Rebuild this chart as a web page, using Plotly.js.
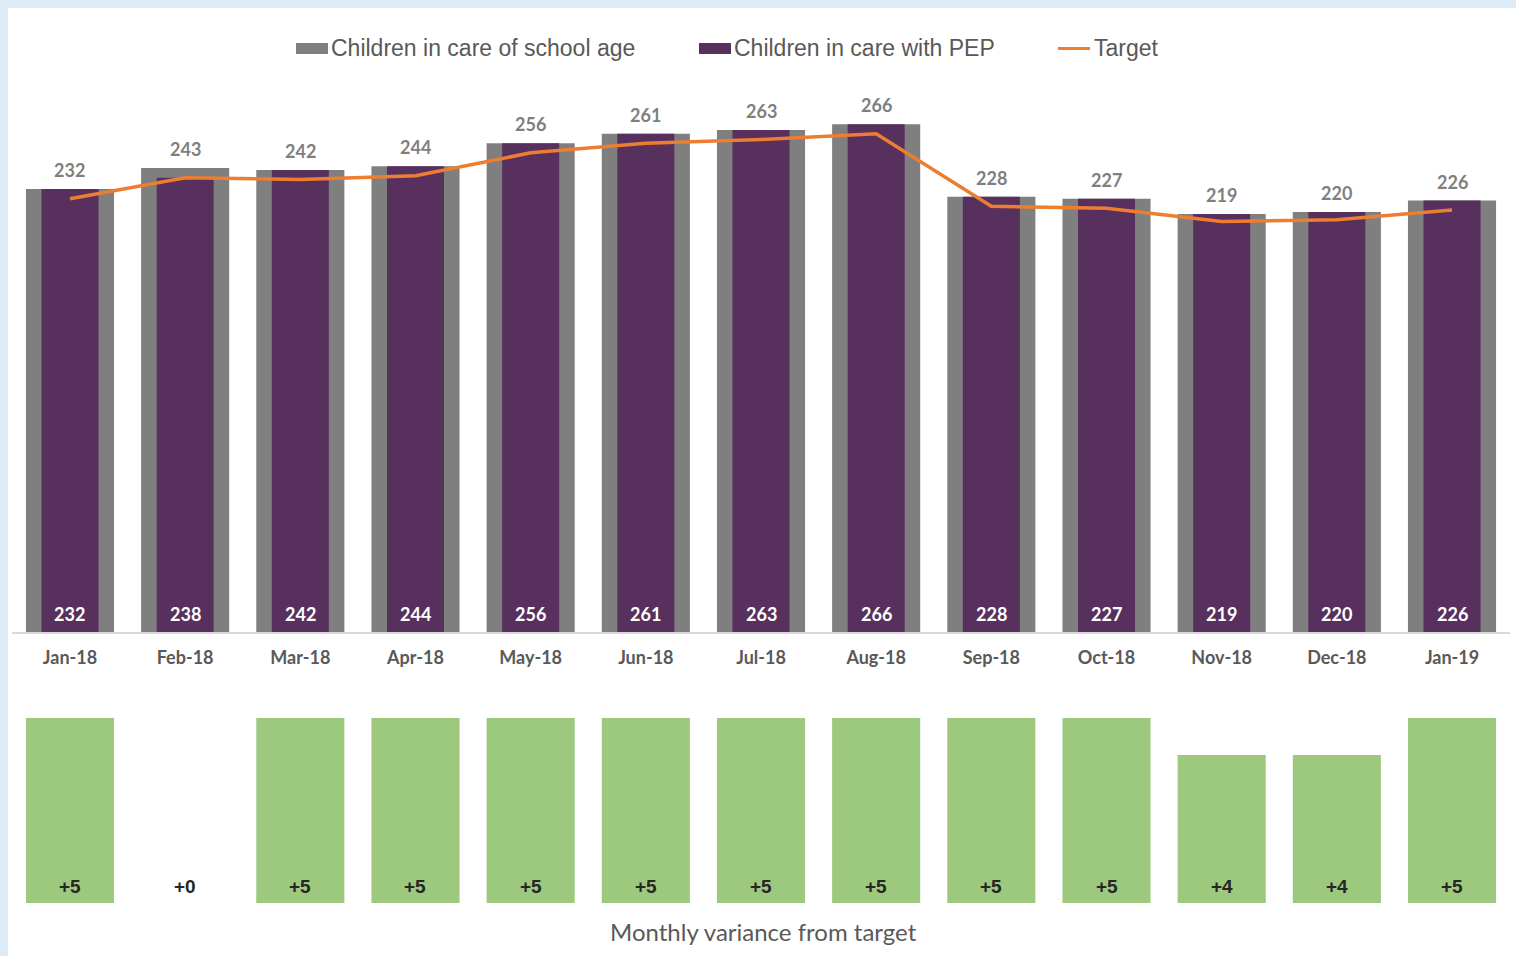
<!DOCTYPE html>
<html>
<head>
<meta charset="utf-8">
<script src="https://cdn.plot.ly/plotly-3.0.1.min.js"></script>
<style>
html,body{margin:0;padding:0;background:#ffffff;}
#chart{width:1516px;height:956px;}
</style>
</head>
<body>
<div id="chart"></div>
<script>
const months = ["Jan-18","Feb-18","Mar-18","Apr-18","May-18","Jun-18","Jul-18","Aug-18","Sep-18","Oct-18","Nov-18","Dec-18","Jan-19"];
const schoolAge = [232,243,242,244,256,261,263,266,228,227,219,220,226];
const withPEP = [232,238,242,244,256,261,263,266,228,227,219,220,226];
const target = [227,238,237,239,251,256,258,261,223,222,215,216,221];
const variance = [5,0,5,5,5,5,5,5,5,5,4,4,5];
const seriesNames = ["Children in care of school age","Children in care with PEP","Target"];

const W = 1516, H = 956;
const px = v => v / W;
const py = v => 1 - v / H;
const xDom = [px(12.4), px(1509.6)];
const topDom = [py(632), py(90)];
const botDom = [py(903), py(700)];

const traces = [
  {type:'bar', name:seriesNames[0], x:months, y:schoolAge, width:0.765, showlegend:false,
   marker:{color:'#7F7F7F'}, xaxis:'x', yaxis:'y', hoverinfo:'skip'},
  {type:'bar', name:seriesNames[1], x:months, y:withPEP, width:0.495, showlegend:false,
   marker:{color:'#58305D'}, xaxis:'x', yaxis:'y', hoverinfo:'skip'},
  {type:'scatter', mode:'lines', name:seriesNames[2], x:months, y:target, showlegend:false,
   line:{color:'#ED7D31', width:3.5}, xaxis:'x', yaxis:'y', hoverinfo:'skip'},
  {type:'bar', name:'Variance', x:months, y:variance, width:0.765, showlegend:false,
   marker:{color:'#9DC97E'}, xaxis:'x2', yaxis:'y2', hoverinfo:'skip'}
];

const numFont = c => ({family:'Lato, "Open Sans", sans-serif', size:18, color:c, weight:'bold'});
const annotations = [];
months.forEach((m,i)=>{
  annotations.push({x:m, y:schoolAge[i], xref:'x', yref:'y', text:String(schoolAge[i]),
    showarrow:false, yanchor:'bottom', yshift:6, font:numFont('#7F7F7F')});
  annotations.push({x:m, y:0, xref:'x', yref:'y', text:String(withPEP[i]),
    showarrow:false, yanchor:'bottom', yshift:5, font:numFont('#FFFFFF')});
  annotations.push({x:m, y:0, xref:'x2', yref:'y2', text:'+'+variance[i],
    showarrow:false, yanchor:'bottom', yshift:4,
    font:{family:'"Liberation Sans", Arial, sans-serif', size:19, color:'#262626', weight:'bold'}});
});
annotations.push({x:0.5, y:py(931), xref:'paper', yref:'paper', text:'Monthly variance from target',
  showarrow:false, xanchor:'center', yanchor:'middle', xshift:5,
  font:{family:'Lato, "Open Sans", sans-serif', size:24, color:'#595959'}});

// custom legend
const legFont = {family:'"Liberation Sans", Arial, sans-serif', size:23, color:'#595959'};
const legTextX = [331, 734, 1094];
seriesNames.forEach((n,i)=>{
  annotations.push({x:px(legTextX[i]), y:py(48), xref:'paper', yref:'paper', text:n,
    showarrow:false, xanchor:'left', yanchor:'middle', xshift:-2, font:legFont});
});

const layout = {
  width:W, height:H,
  margin:{l:0,r:0,t:0,b:0},
  paper_bgcolor:'#FFFFFF', plot_bgcolor:'rgba(0,0,0,0)',
  barmode:'overlay',
  showlegend:false,
  xaxis:{domain:xDom, anchor:'y', type:'category', range:[-0.5,12.5],
    showline:true, linecolor:'#D9D9D9', linewidth:1.5, ticks:'', showgrid:false, zeroline:false,
    ticklabelstandoff:9,
    tickfont:{family:'Lato, "Open Sans", sans-serif', size:18, color:'#595959', weight:'bold'}},
  yaxis:{domain:topDom, anchor:'x', range:[0, 542/1.909], visible:false, fixedrange:true},
  xaxis2:{domain:xDom, anchor:'y2', type:'category', range:[-0.5,12.5], visible:false},
  yaxis2:{domain:botDom, anchor:'x2', range:[0, 203/37], visible:false},
  annotations:annotations,
  shapes:[
    {type:'rect', xref:'paper', yref:'paper', x0:0, x1:px(8), y0:0, y1:1, fillcolor:'#DDEBF7', line:{width:0}, layer:'below'},
    {type:'rect', xref:'paper', yref:'paper', x0:0, x1:1, y0:py(8), y1:1, fillcolor:'#DDEBF7', line:{width:0}, layer:'below'},
    {type:'rect', xref:'paper', yref:'paper', x0:px(296), x1:px(328), y0:py(54), y1:py(43), fillcolor:'#7F7F7F', line:{width:0}},
    {type:'rect', xref:'paper', yref:'paper', x0:px(699), x1:px(731), y0:py(54), y1:py(43), fillcolor:'#58305D', line:{width:0}},
    {type:'line', xref:'paper', yref:'paper', x0:px(1058), x1:px(1090), y0:py(48.5), y1:py(48.5), line:{color:'#ED7D31', width:3}}
  ]
};

Plotly.newPlot('chart', traces, layout, {displayModeBar:false, staticPlot:true});
</script>
</body>
</html>
